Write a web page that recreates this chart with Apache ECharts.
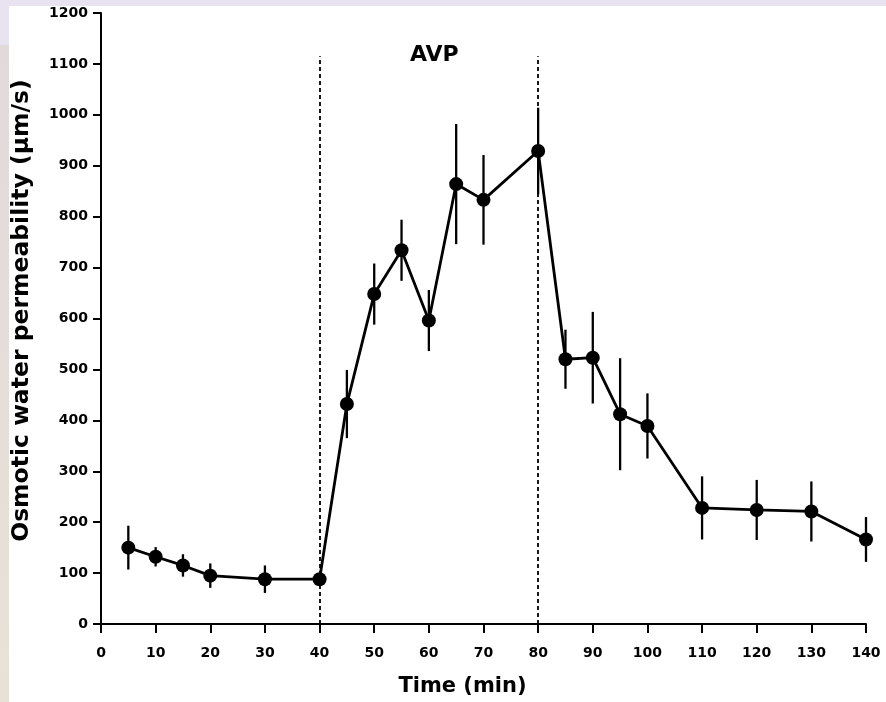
<!DOCTYPE html>
<html>
<head>
<meta charset="utf-8">
<script src="https://cdn.jsdelivr.net/npm/echarts@6/dist/echarts.min.js"></script>
<style>
html,body{margin:0;padding:0;background:#fff;}
#chart{width:886px;height:702px;}
</style>
</head>
<body>
<div id="chart"></div>
<script>
// ---- data ----
var times = [5, 10, 15, 20, 30, 40, 45, 50, 55, 60, 65, 70, 80, 85, 90, 95, 100, 110, 120, 130, 140];
var means = [150, 132, 115, 95, 88, 88, 432, 648, 734, 596, 864, 833, 929, 520, 523, 412, 389, 228, 224, 221, 166];
var errs  = [43, 19, 22, 24, 27, 10, 67, 60, 60, 60, 118, 88, 85, 58, 90, 110, 64, 62, 59, 59, 44];
var xTicks = [0, 10, 20, 30, 40, 50, 60, 70, 80, 90, 100, 110, 120, 130, 140];
var yTicks = [0, 100, 200, 300, 400, 500, 600, 700, 800, 900, 1000, 1100, 1200];
var avpStart = 40, avpEnd = 80, avpLineTop = 1115;
var avpLabel = 'AVP', avpLabelPos = [61, 1117];

var FONT = '"DejaVu Sans", Arial, sans-serif';
var chart = echarts.init(document.getElementById('chart'));

var lineData = times.map(function (t, i) { return [t, means[i]]; });
var errData = times.map(function (t, i) { return [t, means[i] - errs[i], means[i] + errs[i]]; });

chart.setOption({
  backgroundColor: '#ffffff',
  animation: false,
  graphic: [
    { type: 'rect', left: 0, top: 0, shape: { width: 886, height: 6 }, style: { fill: '#e9e2f0' }, z: -10 },
    { type: 'rect', left: 0, top: 0, shape: { width: 9, height: 45 }, style: { fill: '#e9e2f0' }, z: -10 },
    { type: 'rect', left: 0, top: 45, shape: { width: 9, height: 657 },
      style: { fill: new echarts.graphic.LinearGradient(0, 0, 0, 1, [
        { offset: 0, color: '#e2d9db' }, { offset: 1, color: '#e8e2d6' }]) }, z: -10 }
  ],
  grid: { left: 101, right: 20, top: 13, bottom: 78, containLabel: false, outerBoundsMode: 'none' },
  xAxis: {
    type: 'value', min: 0, max: 140, interval: 10,
    name: 'Time (min)', nameLocation: 'middle', nameGap: 52,
    nameTextStyle: { fontFamily: FONT, fontWeight: 'bold', fontSize: 21, color: '#000', padding: [0, 42, 0, 0] },
    axisLine: { show: true, lineStyle: { color: '#000', width: 2 } },
    axisTick: { show: true, inside: false, length: 9, lineStyle: { color: '#000', width: 2 } },
    axisLabel: { margin: 22, fontFamily: FONT, fontWeight: 'bold', fontSize: 14, color: '#000',
      formatter: function (v) { return xTicks.indexOf(v) >= 0 ? String(v) : ''; } },
    splitLine: { show: false }
  },
  yAxis: {
    type: 'value', min: 0, max: 1200, interval: 100,
    name: 'Osmotic water permeability (\u03bcm/s)', nameLocation: 'middle', nameGap: 67,
    nameTextStyle: { fontFamily: FONT, fontWeight: 'bold', fontSize: 23.5, color: '#000', padding: [0, 0, 0, 16] },
    axisLine: { show: true, lineStyle: { color: '#000', width: 2 } },
    axisTick: { show: true, inside: false, length: 8, lineStyle: { color: '#000', width: 2 } },
    axisLabel: { margin: 13, fontFamily: FONT, fontWeight: 'bold', fontSize: 14, color: '#000',
      formatter: function (v) { return yTicks.indexOf(v) >= 0 ? String(v) : ''; } },
    splitLine: { show: false }
  },
  series: [
    {
      type: 'custom',
      silent: true,
      data: errData,
      z: 3,
      renderItem: function (params, api) {
        var x = api.value(0);
        var lo = api.coord([x, api.value(1)]);
        var hi = api.coord([x, api.value(2)]);
        return {
          type: 'line',
          shape: { x1: lo[0], y1: lo[1], x2: hi[0], y2: hi[1] },
          style: { stroke: '#000', lineWidth: 2.3 }
        };
      }
    },
    {
      type: 'line',
      data: lineData,
      z: 4,
      symbol: 'circle',
      symbolSize: 14,
      showAllSymbol: true,
      lineStyle: { color: '#000', width: 2.8 },
      itemStyle: { color: '#000' },
      markLine: {
        silent: true,
        symbol: ['none', 'none'],
        lineStyle: { color: '#000', width: 1.8, type: [4, 3] },
        label: { show: false },
        data: [
          [{ coord: [avpStart, 0] }, { coord: [avpStart, avpLineTop] }],
          [{ coord: [avpEnd, 0] }, { coord: [avpEnd, avpLineTop] }]
        ]
      },
      markPoint: {
        silent: true,
        symbol: 'circle',
        symbolSize: 0,
        data: [{ coord: avpLabelPos, value: avpLabel }],
        label: { show: true, position: 'inside', formatter: avpLabel,
          fontFamily: FONT, fontWeight: 'bold', fontSize: 22, color: '#000' }
      }
    }
  ]
});
</script>
</body>
</html>
